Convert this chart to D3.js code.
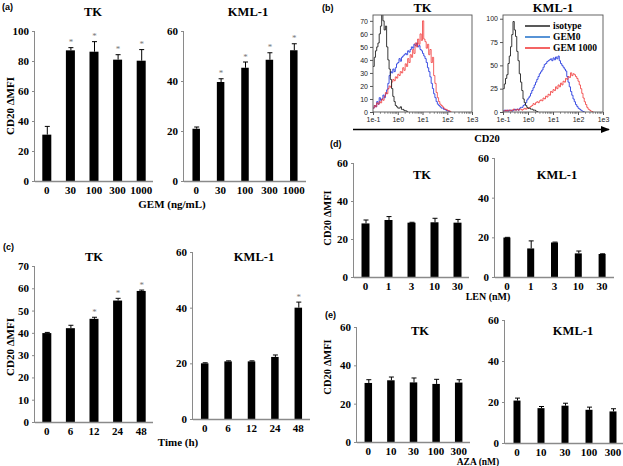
<!DOCTYPE html>
<html><head><meta charset="utf-8">
<script src="https://cdn.jsdelivr.net/npm/d3@7/dist/d3.min.js"></script>
<style>
html,body{margin:0;padding:0;background:#fff;}
svg{display:block;}
</style></head>
<body>
<svg id="fig" width="623" height="466"></svg>
<script>
// ---------------- data ----------------
const gemDoses = ["0","30","100","300","1000"];
const timePoints = ["0","6","12","24","48"];
const lenDoses = ["0","1","3","10","30"];
const azaDoses = ["0","10","30","100","300"];

const gemTK = [30.9, 87.1, 86.2, 80.9, 80.2];
const gemTKErr = [5.5, 1.8, 6.7, 3.3, 7.4];
const gemTKSig = [0, 1, 1, 1, 1];
const gemKML = [20.9, 39.6, 45.3, 48.5, 52.3];
const gemKMLErr = [0.7, 1.3, 2.3, 2.8, 2.6];
const gemKMLSig = [0, 1, 1, 1, 1];

const timeTK = [39.9, 42.1, 46.3, 54.5, 58.8];
const timeTKErr = [0.3, 1.3, 0.7, 1.0, 0.4];
const timeTKSig = [0, 0, 1, 1, 1];
const timeKML = [20.0, 20.7, 20.7, 22.3, 40.0];
const timeKMLErr = [0.2, 0.2, 0.2, 0.7, 2.0];
const timeKMLSig = [0, 0, 0, 0, 1];

const lenTK = [28.2, 30.0, 28.6, 28.8, 28.6];
const lenTKErr = [1.8, 1.8, 0.2, 2.1, 1.7];
const lenKML = [19.9, 14.4, 17.4, 11.9, 11.6];
const lenKMLErr = [0.1, 3.8, 0.2, 1.2, 0.1];

const azaTK = [30.8, 32.2, 31.1, 30.3, 31.0];
const azaTKErr = [1.7, 1.7, 2.3, 2.4, 1.5];
const azaKML = [20.7, 17.0, 18.2, 16.2, 15.4];
const azaKMLErr = [1.2, 0.8, 1.2, 1.3, 1.3];

const ticks100 = [0, 20, 40, 60, 80, 100];
const ticks60 = [0, 20, 40, 60];
const ticks70 = [0, 10, 20, 30, 40, 50, 60, 70];

// histogram (b): counts per 0.05-decade bin starting at 1e-1
const histTicks = ["1e-1", "1e0", "1e1", "1e2", "1e3"];
const histTKYTicks = [0, 10, 20, 30, 40, 50, 60, 70];
const histKMLYTicks = [0, 25, 50, 75, 100];
const tkIsotype = [35,42,47,50,53,60,66,80,70,63,66,50,40,33,25,18,12,8,5,4,3,3,4,2,2,1,1,0.5,0];
const tkGem0 = [3,5,4,8,6,11,9,10,13,11,14,17,22,28,31,30,33,31,34,37,38,41,39,42,43,44,45,44,47,46,48,50,49,52,51,53,50,51,48,47,45,43,41,38,34,31,27,22,18,14,11,8,6,5,4,3,3,2,2,1,1,0.5,0];
const tkGem1000 = [3,5,4,7,6,8,7,10,9,12,15,14,18,20,19,23,25,24,27,26,29,28,31,30,34,32,37,35,41,38,44,42,48,45,53,50,56,52,60,55,70,56,54,49,52,44,48,38,42,28,22,15,11,8,6,5,4,3,2,2,1,1,0.5,0];
const kmlIsotype = [25,30,36,40,52,60,70,83,97,88,81,65,55,41,32,23,14,10,7,5,4,4,3,3,2,2,1,0.5,0];
const kmlGem0 = [1,2,1,2,1,2,2,1,2,3,2,3,2,4,5,5,7,8,10,13,15,17,20,23,26,29,32,35,38,41,43,45,48,51,52,54,55,56,57,55,58,56,59,57,60,55,52,50,48,46,44,38,32,27,22,18,14,11,8,6,4,3,2,1,0.5,0];
const kmlGem1000 = [1,1,2,1,2,2,1,2,3,2,2,3,2,3,3,2,3,4,3,4,4,5,6,7,9,8,10,11,10,12,13,12,15,14,17,16,19,18,22,21,24,23,27,25,29,27,31,29,33,32,36,35,38,37,42,39,41,40,38,36,33,29,25,20,15,11,8,5,3,2,1,0.5,0];
const histSeries = ["isotype", "GEM0", "GEM1000"];

// ---------------- drawing ----------------
const SERIF = '"Liberation Serif","Times New Roman",serif';
const SANS = '"Liberation Sans",Arial,sans-serif';
const svg = d3.select("#fig");
const AX = "#8a8a8a";

function text(x, y, s, size, opts = {}) {
  const t = svg.append("text").attr("x", x).attr("y", y).text(s)
    .style("font-family", opts.sans ? SANS : SERIF)
    .style("font-weight", "bold")
    .attr("font-size", size)
    .attr("text-anchor", opts.anchor || "middle")
    .attr("fill", opts.fill || "#000");
  if (opts.rotate) t.attr("transform", `rotate(-90,${x},${y})`);
  return t;
}

function barPanel(cfg) {
  const g = svg.append("g");
  const x = d3.scalePoint().domain(cfg.cats).range([cfg.x0, cfg.x1]).padding(0.5);
  const y = d3.scaleLinear().domain([0, cfg.ymax]).range([cfg.y0, cfg.yTop]);
  const ya = g.append("g").attr("transform", `translate(${cfg.x0},0)`)
    .call(d3.axisLeft(y).tickValues(cfg.ticks).tickSize(3).tickPadding(3));
  ya.select(".domain").attr("stroke", AX).attr("d", `M-0.5,${cfg.y0}V${cfg.yTop}`);
  ya.selectAll(".tick line").attr("stroke", AX);
  ya.selectAll(".tick text").style("font-family", SERIF).style("font-weight", "bold")
    .attr("font-size", 11).attr("fill", "#000");
  const data = cfg.vals.map((v, i) => ({c: cfg.cats[i], v, e: cfg.err[i], s: cfg.sig ? cfg.sig[i] : 0}));
  g.selectAll("rect.bar").data(data).join("rect").attr("class", "bar")
    .attr("x", d => x(d.c) - cfg.bw / 2).attr("width", cfg.bw)
    .attr("y", d => y(d.v)).attr("height", d => y(0) - y(d.v)).attr("fill", "#000");
  g.selectAll("line.err").data(data).join("line").attr("class", "err")
    .attr("x1", d => x(d.c) + 0.5).attr("x2", d => x(d.c) + 0.5)
    .attr("y1", d => y(d.v)).attr("y2", d => y(d.v + d.e)).attr("stroke", "#000").attr("stroke-width", 1);
  g.selectAll("line.cap").data(data).join("line").attr("class", "cap")
    .attr("x1", d => x(d.c) - 2).attr("x2", d => x(d.c) + 3)
    .attr("y1", d => y(d.v + d.e)).attr("y2", d => y(d.v + d.e)).attr("stroke", "#000").attr("stroke-width", 1);
  g.selectAll("text.star").data(data.filter(d => d.s)).join("text").attr("class", "star")
    .attr("x", d => x(d.c) + 0.5).attr("y", d => y(d.v + d.e) - 2.5)
    .style("font-family", SERIF)
    .attr("text-anchor", "middle").attr("font-size", 9).attr("fill", "#777").text("*");
  g.append("line").attr("x1", cfg.x0).attr("x2", cfg.x1).attr("y1", cfg.y0 + 0.5).attr("y2", cfg.y0 + 0.5)
    .attr("stroke", AX).attr("stroke-width", 1.6);
  g.selectAll("text.xl").data(cfg.cats).join("text").attr("class", "xl")
    .style("font-family", SERIF).style("font-weight", "bold")
    .attr("x", d => x(d)).attr("y", cfg.y0 + 13).attr("text-anchor", "middle")
    .attr("font-size", 11).text(d => d);
  if (cfg.title) text(cfg.title[1], cfg.title[2], cfg.title[0], 12.5);
}

// (a)
text(2, 10, "(a)", 9, {sans: true, anchor: "start"});
barPanel({cats: gemDoses, vals: gemTK, err: gemTKErr, sig: gemTKSig, ymax: 100, ticks: ticks100,
  x0: 35, x1: 153, y0: 181, yTop: 31, bw: 9, title: ["TK", 93, 16]});
barPanel({cats: gemDoses, vals: gemKML, err: gemKMLErr, sig: gemKMLSig, ymax: 60, ticks: ticks60,
  x0: 184, x1: 306, y0: 181, yTop: 31, bw: 7.5, title: ["KML-1", 248, 16]});
text(172, 208, "GEM (ng/mL)", 11);
text(14, 106, "CD20  \u0394MFI", 11, {rotate: true});

// (c)
text(3, 250, "(c)", 9, {sans: true, anchor: "start"});
barPanel({cats: timePoints, vals: timeTK, err: timeTKErr, sig: timeTKSig, ymax: 70, ticks: ticks70,
  x0: 35, x1: 153, y0: 422, yTop: 266, bw: 9, title: ["TK", 94, 261]});
barPanel({cats: timePoints, vals: timeKML, err: timeKMLErr, sig: timeKMLSig, ymax: 60, ticks: ticks60,
  x0: 193, x1: 310, y0: 419, yTop: 252, bw: 7.5, title: ["KML-1", 254, 261]});
text(178, 446, "Time (h)", 11);
text(14, 347, "CD20  \u0394MFI", 11, {rotate: true});

// (d)
text(330, 147, "(d)", 9, {sans: true, anchor: "start"});
barPanel({cats: lenDoses, vals: lenTK, err: lenTKErr, ymax: 60, ticks: ticks60,
  x0: 354, x1: 469, y0: 277, yTop: 163, bw: 8, title: ["TK", 422, 179]});
barPanel({cats: lenDoses, vals: lenKML, err: lenKMLErr, ymax: 60, ticks: ticks60,
  x0: 495, x1: 614, y0: 277, yTop: 158, bw: 7, title: ["KML-1", 557, 179]});
text(488, 300, "LEN (nM)", 10);
text(331, 218, "CD20  \u0394MFI", 10.5, {rotate: true});

// (e)
text(325, 318, "(e)", 9, {sans: true, anchor: "start"});
barPanel({cats: azaDoses, vals: azaTK, err: azaTKErr, ymax: 60, ticks: ticks60,
  x0: 357, x1: 470, y0: 442, yTop: 327, bw: 7.5, title: ["TK", 420, 335]});
barPanel({cats: azaDoses, vals: azaKML, err: azaKMLErr, ymax: 60, ticks: ticks60,
  x0: 505, x1: 625, y0: 443, yTop: 320, bw: 7, title: ["KML-1", 573, 335]});
text(478, 465, "AZA (nM)", 9.5);
text(331, 367, "CD20  \u0394MFI", 10.5, {rotate: true});

// (b) histograms
text(322, 11, "(b)", 9, {sans: true, anchor: "start"});
const histBins = d3.range(-1, 3.001, 0.05);
const colors = {isotype: "#222", GEM0: "#2a3fe0", GEM1000: "#f03030"};
function histPanel(cfg) {
  const g = svg.append("g");
  const x = d3.scaleLinear().domain([-1, 3]).range([cfg.left, cfg.right]);
  const y = d3.scaleLinear().domain([0, cfg.ymax]).range([cfg.bottom, cfg.top]);
  const cid = "clip" + cfg.id;
  svg.append("clipPath").attr("id", cid).append("rect")
    .attr("x", cfg.left).attr("y", cfg.top).attr("width", cfg.right - cfg.left).attr("height", cfg.bottom - cfg.top);
  const line = d3.line().x(d => x(d[0])).y(d => y(d[1])).curve(d3.curveStepAfter);
  const series = [[cfg.s1, colors.GEM0], [cfg.s2, colors.GEM1000], [cfg.s0, colors.isotype]];
  series.forEach(([arr, col]) => {
    const pts = arr.map((v, i) => [histBins[i], v]);
    g.append("path").attr("d", line(pts)).attr("fill", "none").attr("stroke", col)
      .attr("stroke-width", 0.9).attr("clip-path", `url(#${cid})`).attr("opacity", col === colors.GEM1000 ? 0.85 : 1);
  });
  g.append("rect").attr("x", cfg.left).attr("y", cfg.top).attr("width", cfg.right - cfg.left)
    .attr("height", cfg.bottom - cfg.top).attr("fill", "none").attr("stroke", "#555").attr("stroke-width", 0.9);
  const xa = g.append("g").attr("transform", `translate(0,${cfg.bottom})`)
    .call(d3.axisBottom(x).tickValues([-1, 0, 1, 2, 3]).tickFormat((d, i) => histTicks[i]).tickSize(3).tickPadding(2));
  xa.select(".domain").remove();
  xa.selectAll(".tick line").attr("stroke", "#555");
  xa.selectAll(".tick text").style("font-family", SANS).attr("font-size", 7).attr("fill", "#222");
  const minors = [];
  [-1, 0, 1, 2].forEach(dec => [2,3,4,5,6,7,8,9].forEach(m => minors.push(dec + Math.log10(m))));
  g.selectAll("line.xm").data(minors).join("line").attr("class", "xm")
    .attr("x1", d => x(d)).attr("x2", d => x(d)).attr("y1", cfg.bottom).attr("y2", cfg.bottom + 1.8)
    .attr("stroke", "#555").attr("stroke-width", 0.7);
  const ya = g.append("g").attr("transform", `translate(${cfg.left},0)`)
    .call(d3.axisLeft(y).tickValues(cfg.yticks).tickSize(3).tickPadding(2));
  ya.select(".domain").remove();
  ya.selectAll(".tick line").attr("stroke", "#555");
  ya.selectAll(".tick text").style("font-family", SANS).attr("font-size", 7).attr("fill", "#222");
  text((cfg.left + cfg.right) / 2, 12, cfg.title, 12.5);
}
histPanel({id: "tk", left: 373, right: 472, top: 15, bottom: 112, ymax: 74.5, yticks: histTKYTicks,
  s0: tkIsotype, s1: tkGem0, s2: tkGem1000, title: "TK"});
histPanel({id: "kml", left: 503, right: 603, top: 15, bottom: 112, ymax: 104, yticks: histKMLYTicks,
  s0: kmlIsotype, s1: kmlGem0, s2: kmlGem1000, title: "KML-1"});
const legCols = [colors.isotype, "#1f6fc8", colors.GEM1000];
histSeries.forEach((s, i) => {
  const yy = 26 + i * 11;
  svg.append("line").attr("x1", 525).attr("x2", 550).attr("y1", yy).attr("y2", yy)
    .attr("stroke", legCols[i]).attr("stroke-width", 1.5);
  text(553, yy + 3.2, s === "GEM1000" ? "GEM 1000" : s, 9.5, {anchor: "start"});
});
const defs = svg.append("defs");
defs.append("marker").attr("id", "arr").attr("viewBox", "0 0 10 10").attr("refX", 9).attr("refY", 5)
  .attr("markerWidth", 7).attr("markerHeight", 7).attr("orient", "auto")
  .append("path").attr("d", "M0,1L10,5L0,9Z").attr("fill", "#000");
svg.append("line").attr("x1", 353).attr("x2", 609).attr("y1", 129.5).attr("y2", 129.5)
  .attr("stroke", "#000").attr("stroke-width", 1.3).attr("marker-end", "url(#arr)");
text(487, 142, "CD20", 10.5);
</script>
</body></html>
